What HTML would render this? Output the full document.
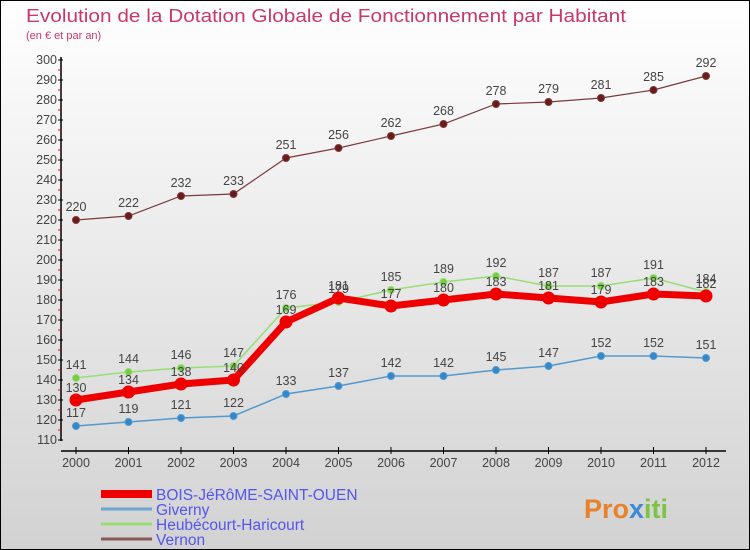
<!DOCTYPE html>
<html><head><meta charset="utf-8"><style>
body{margin:0}
#c{width:748px;height:548px;border:1px solid #000;background:linear-gradient(#ffffff,#d2d2d2);position:relative;overflow:hidden;font-family:"Liberation Sans","DejaVu Sans",sans-serif}
</style></head><body>
<div id="c">
<svg id="s" width="748" height="548" xmlns="http://www.w3.org/2000/svg">
<text x="25" y="21" font-size="18" textLength="600" lengthAdjust="spacingAndGlyphs" fill="#c8386a">Evolution de la Dotation Globale de Fonctionnement par Habitant</text>
<text x="25" y="38" font-size="11" fill="#c8386a">(en € et par an)</text>
<text x="583" y="517" font-size="27" font-weight="bold" fill="#e8812a">Pro<tspan fill="#3a8ad8">x</tspan><tspan fill="#7cc444">iti</tspan></text>
</svg>
</div>
<script>
const years=[2000,2001,2002,2003,2004,2005,2006,2007,2008,2009,2010,2011,2012];
const yTicks=[110,120,130,140,150,160,170,180,190,200,210,220,230,240,250,260,270,280,290,300];
const bois=[130,134,138,140,169,181,177,180,183,181,179,183,182];
const giverny=[117,119,121,122,133,137,142,142,145,147,152,152,151];
const heub=[141,144,146,147,176,179,185,189,192,187,187,191,184];
const vernon=[220,222,232,233,251,256,262,268,278,279,281,285,292];
const NS="http://www.w3.org/2000/svg",s=document.getElementById('s');
const X=i=>75+i*52.5, Y=v=>659-2*v;
function el(t,a,p){const e=document.createElementNS(NS,t);for(const k in a)e.setAttribute(k,a[k]);(p||s).appendChild(e);return e;}
let ax=el('line',{x1:60,y1:56,x2:60,y2:440,stroke:'#000','stroke-width':1.5});


let ax2=el('line',{x1:60,y1:450,x2:725,y2:450,stroke:'#000','stroke-width':1.5});


yTicks.forEach(v=>{
  el('line',{x1:57,y1:Y(v),x2:62,y2:Y(v),stroke:'#000'});
  if(v<300)el('line',{x1:57,y1:Y(v+5),x2:60,y2:Y(v+5),stroke:'#e00'});
  const t=el('text',{x:56,y:Y(v)+4,'font-size':12.5,'text-anchor':'end',fill:'#444'});
  t.textContent=v;
  
  
});
years.forEach((y,i)=>{
  el('line',{x1:X(i),y1:446,x2:X(i),y2:453,stroke:'#000'});
  const t=el('text',{x:X(i),y:466,'font-size':12.5,'text-anchor':'middle',fill:'#444'});
  t.textContent=y;
  
  
});
function series(d,col,w,r,fill,name,labelOff){
  const g=el('g',{});
  
  
  el('polyline',{points:d.map((v,i)=>X(i)+','+Y(v)).join(' '),fill:'none',stroke:col,'stroke-width':w},g);
  d.forEach((v,i)=>{
    const c=el('circle',{cx:X(i),cy:Y(v),r:r,fill:fill,stroke:col,'stroke-width':1},g);
    
    
    const t=el('text',{x:X(i),y:Y(v)+labelOff,'font-size':12.5,'text-anchor':'middle',fill:'#444'},g);
    t.textContent=v;
    
    
  });
}
series(vernon,'#7a3a3a',1.2,3.5,'#6a1a1a','vernon',-9);
series(heub,'#99dd77',1.5,3.5,'#77cc44','heubecourt',-9);
series(giverny,'#5599cc',1.5,3.5,'#3388cc','giverny',-9);
series(bois,'#ee0000',7,6,'#ee0000','bois-jerome',-8);
const leg=[['BOIS-JéRôME-SAINT-OUEN','#ee0000',8],['Giverny','#6aa6d0',3],['Heubécourt-Haricourt','#99dd77',3],['Vernon','#8a5a5a',3]];
leg.forEach((l,i)=>{
  const yy=493+i*15;
  const ln=el('line',{x1:100,y1:yy,x2:151,y2:yy,stroke:l[1],'stroke-width':l[2]});
  
  
  const t=el('text',{x:155,y:yy+6,'font-size':15.5,fill:'#5555ee'});
  t.textContent=l[0];
  
  
});
</script>
</body></html>
